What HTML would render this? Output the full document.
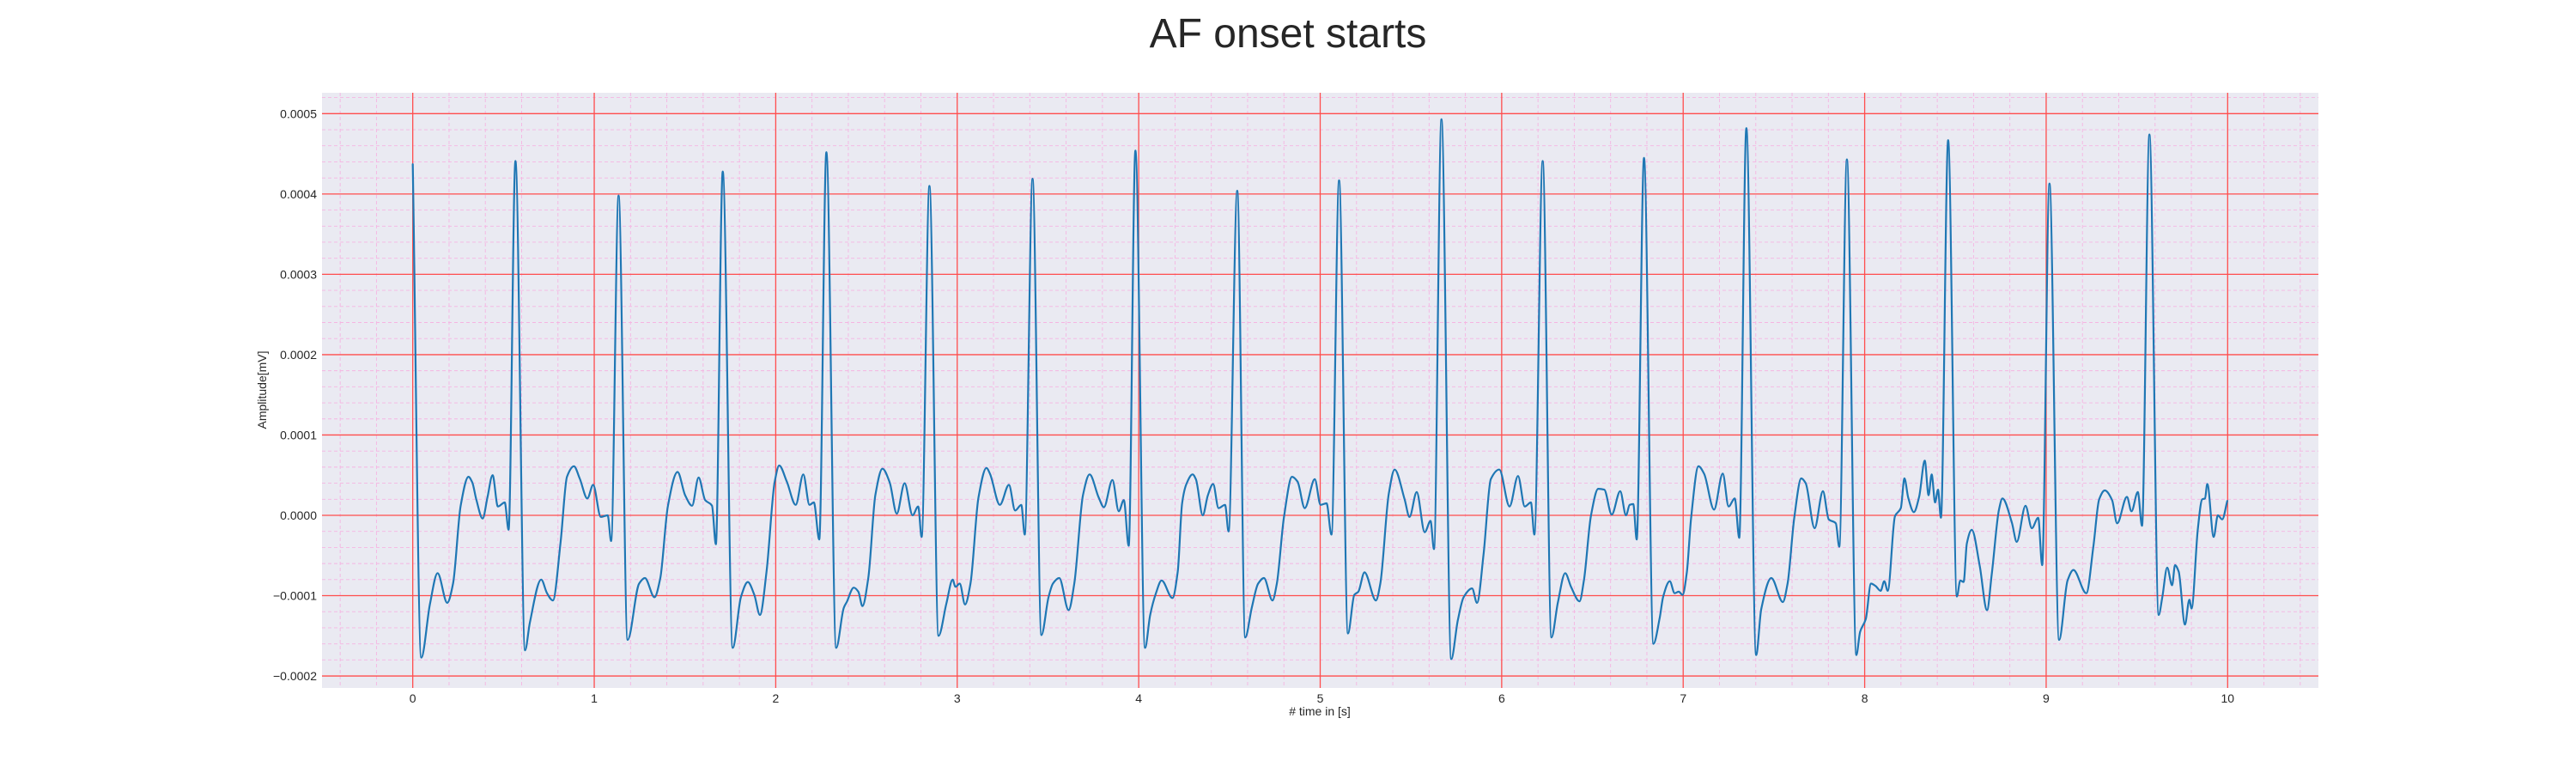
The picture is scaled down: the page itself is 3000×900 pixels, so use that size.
<!DOCTYPE html>
<html><head><meta charset="utf-8"><style>
html,body{margin:0;padding:0;background:#fff;}
svg{display:block;font-family:"Liberation Sans",Arial,sans-serif;}
</style></head><body>
<svg id="chart" width="3000" height="900" viewBox="0 0 3000 900" xmlns="http://www.w3.org/2000/svg">
<rect x="0" y="0" width="3000" height="900" fill="#ffffff"/>
<text x="1500" y="55" text-anchor="middle" font-size="48" fill="#262626">AF onset starts</text>
<rect x="375" y="108" width="2325" height="693" fill="#eaeaf2"/>
<g id="minor-grid"></g>
<g id="major-grid"></g>
<g id="series"></g>
<g id="x-ticks"></g>
<g id="y-ticks"></g>
<text x="1537" y="833" text-anchor="middle" font-size="14" fill="#262626"># time in [s]</text>
<text x="0" y="0" transform="translate(310,454) rotate(-90)" text-anchor="middle" font-size="14" fill="#262626">Amplitude[mV]</text>
</svg>
<script>
const timeSec = [0,0.047,0.095,0.137,0.19,0.222,0.264,0.307,0.328,0.349,0.385,0.412,0.44,0.469,0.507,0.528,0.566,
0.619,0.645,0.708,0.74,0.772,0.814,0.85,0.888,0.92,0.962,0.994,1.036,1.074,1.093,1.134,
1.184,1.247,1.279,1.332,1.364,1.406,1.459,1.501,1.539,1.575,1.611,1.649,1.67,1.708,
1.763,1.808,1.846,1.882,1.913,1.949,1.994,2.019,2.061,2.11,2.152,2.186,2.21,2.24,2.279,
2.333,2.375,2.391,2.43,2.455,2.478,2.51,2.549,2.588,2.628,2.667,2.71,2.754,2.785,2.804,2.847,
2.897,2.94,2.975,2.99,3.014,3.043,3.073,3.117,3.161,3.18,3.235,3.285,3.319,3.353,3.372,3.415,
3.464,3.503,3.527,3.562,3.614,3.645,3.693,3.729,3.78,3.808,3.855,3.89,3.918,3.945,3.982,
4.035,4.063,4.095,4.126,4.186,4.215,4.239,4.263,4.297,4.315,4.353,4.381,4.41,4.44,4.476,4.495,4.543,
4.587,4.623,4.658,4.69,4.737,4.761,4.8,4.845,4.875,4.915,4.97,5.002,5.035,5.062,5.104,
5.153,5.188,5.21,5.244,5.307,5.331,5.378,5.41,5.465,5.492,5.532,5.576,5.608,5.627,5.668,
5.722,5.758,5.79,5.837,5.864,5.9,5.94,5.987,6.043,6.09,6.127,6.161,6.18,6.226,
6.274,6.31,6.35,6.382,6.429,6.453,6.492,6.532,6.565,6.606,6.653,6.685,6.705,6.725,6.744,6.784,
6.836,6.871,6.89,6.926,6.953,6.975,6.997,7.02,7.044,7.084,7.115,7.17,7.218,7.25,7.284,7.309,7.348,
7.402,7.43,7.486,7.549,7.575,7.612,7.651,7.675,7.724,7.77,7.802,7.841,7.86,7.902,
7.954,7.975,8.006,8.035,8.06,8.088,8.108,8.127,8.167,8.199,8.219,8.24,8.271,8.30,8.331,8.352,8.369,8.388,8.404,8.42,8.46,
8.508,8.527,8.545,8.563,8.59,8.634,8.674,8.7,8.74,8.759,8.811,8.838,8.886,8.921,8.956,8.978,9.018,
9.071,9.118,9.15,9.221,9.26,9.292,9.323,9.363,9.391,9.445,9.47,9.505,9.528,9.569,
9.62,9.64,9.667,9.694,9.71,9.73,9.765,9.789,9.801,9.836,9.86,9.875,9.888,9.923,9.946,9.97,9.998];
const amplitudeE4 = [4.37,-1.77,-1.10,-0.72,-1.09,-0.85,0.12,0.48,0.41,0.21,-0.04,0.23,0.50,0.11,0.16,-0.18,4.41,
-1.68,-1.34,-0.80,-0.97,-1.06,-0.35,0.48,0.61,0.46,0.21,0.38,-0.02,0.0,-0.32,3.98,
-1.55,-0.85,-0.78,-1.02,-0.78,0.12,0.54,0.25,0.12,0.47,0.19,0.12,-0.36,4.28,
-1.65,-1.02,-0.83,-0.99,-1.24,-0.71,0.41,0.62,0.42,0.13,0.51,0.13,0.16,-0.30,4.52,
-1.65,-1.15,-1.08,-0.90,-0.95,-1.13,-0.78,0.25,0.58,0.41,0.02,0.40,0.00,0.11,-0.27,4.10,
-1.50,-1.10,-0.80,-0.89,-0.85,-1.11,-0.85,0.22,0.59,0.52,0.13,0.38,0.06,0.13,-0.24,4.19,
-1.49,-1.02,-0.85,-0.78,-1.18,-0.85,0.25,0.51,0.22,0.10,0.44,0.05,0.19,-0.38,4.54,
-1.65,-1.24,-0.97,-0.81,-1.03,-0.70,0.15,0.39,0.51,0.45,0.00,0.25,0.39,0.09,0.13,-0.20,4.04,
-1.52,-1.15,-0.85,-0.78,-1.06,-0.85,-0.03,0.48,0.42,0.09,0.45,0.13,0.15,-0.24,4.17,
-1.47,-0.99,-0.95,-0.71,-1.06,-0.85,0.27,0.57,0.20,-0.02,0.29,-0.21,-0.07,-0.42,4.93,
-1.79,-1.31,-1.02,-0.91,-1.09,-0.49,0.45,0.57,0.11,0.49,0.11,0.16,-0.24,4.41,
-1.52,-1.08,-0.72,-0.89,-1.07,-0.81,0.00,0.33,0.32,0.01,0.30,0.00,0.13,0.14,-0.30,4.45,
-1.60,-1.27,-1.01,-0.82,-0.97,-0.95,-0.99,-0.71,-0.03,0.61,0.52,0.07,0.52,0.11,0.21,-0.28,4.82,
-1.74,-1.17,-0.78,-1.08,-0.85,-0.03,0.46,0.40,-0.16,0.30,-0.05,-0.10,-0.39,4.43,
-1.74,-1.45,-1.29,-0.85,-0.88,-0.94,-0.82,-0.94,-0.01,0.09,0.46,0.22,0.04,0.23,0.68,0.25,0.51,0.16,0.32,-0.03,4.67,
-1.01,-0.81,-0.83,-0.35,-0.18,-0.63,-1.18,-0.74,0.07,0.21,-0.09,-0.33,0.12,-0.16,-0.03,-0.62,4.13,
-1.55,-0.81,-0.68,-0.97,-0.39,0.20,0.31,0.19,-0.10,0.23,0.05,0.29,-0.13,4.74,
-1.24,-1.02,-0.65,-0.87,-0.62,-0.70,-1.36,-1.05,-1.16,-0.16,0.20,0.21,0.39,-0.27,0.00,-0.05,0.18];
const xTickValues = [0,1,2,3,4,5,6,7,8,9,10];
const xTickLabels = ["0","1","2","3","4","5","6","7","8","9","10"];
const yTickValues = [-0.0002,-0.0001,0,0.0001,0.0002,0.0003,0.0004,0.0005];
const yTickLabels = ["\u22120.0002","\u22120.0001","0.0000","0.0001","0.0002","0.0003","0.0004","0.0005"];

const NS = "http://www.w3.org/2000/svg";
const PL = 375, PR = 2700, PT = 108, PB = 801;
const XMIN = -0.5, XMAX = 10.5, YMIN = -0.0002149, YMAX = 0.000526;
function xScale(t){ return PL + (t - XMIN) / (XMAX - XMIN) * (PR - PL); }
function yScale(v){ return PB - (v - YMIN) / (YMAX - YMIN) * (PB - PT); }
function mk(tag, attrs, parent){ const e = document.createElementNS(NS, tag); for (const k in attrs) e.setAttribute(k, attrs[k]); parent.appendChild(e); return e; }

const minorG = document.getElementById('minor-grid');
for (let i = -2; i <= 52; i++) {
  const t = i * 0.2; if (t < XMIN || t > XMAX || i % 5 === 0) continue;
  const l = mk('line', {x1: xScale(t), x2: xScale(t), y1: PT, y2: PB, stroke: '#f5b5e2', 'stroke-width': 0.9, 'stroke-dasharray': '4,3'}, minorG);
  
  
}
for (let i = -11; i <= 27; i++) {
  const v = i * 0.00002; if (v < YMIN || v > YMAX || i % 5 === 0) continue;
  const l = mk('line', {x1: PL, x2: PR, y1: yScale(v), y2: yScale(v), stroke: '#f5b5e2', 'stroke-width': 0.9, 'stroke-dasharray': '4,3'}, minorG);
  
  
}
const majorG = document.getElementById('major-grid');
const xt = document.getElementById('x-ticks');
xTickValues.forEach((t, i) => {
  const l = mk('line', {x1: xScale(t), x2: xScale(t), y1: PT, y2: PB, stroke: '#ff4d4d', 'stroke-width': 1.3}, majorG);
  
  
  const tx = mk('text', {x: xScale(t), y: 818, 'text-anchor': 'middle', 'font-size': 14, fill: '#262626'}, xt);
  tx.textContent = xTickLabels[i];
  
  
});
const yt = document.getElementById('y-ticks');
yTickValues.forEach((v, i) => {
  const l = mk('line', {x1: PL, x2: PR, y1: yScale(v), y2: yScale(v), stroke: '#ff4d4d', 'stroke-width': 1.3}, majorG);
  
  
  const tx = mk('text', {x: 369, y: yScale(v) + 5, 'text-anchor': 'end', 'font-size': 14, fill: '#262626'}, yt);
  tx.textContent = yTickLabels[i];
  
  
});

// monotone cubic path through the data points (no overshoot)
const X = timeSec.map(xScale), Y = amplitudeE4.map(a => yScale(a * 1e-4));
const n = X.length, d = [], m = new Array(n);
for (let i = 0; i < n - 1; i++) d.push((Y[i+1] - Y[i]) / (X[i+1] - X[i]));
m[0] = d[0]; m[n-1] = d[n-2];
for (let i = 1; i < n - 1; i++) {
  if (d[i-1] * d[i] <= 0) m[i] = 0;
  else { const h0 = X[i]-X[i-1], h1 = X[i+1]-X[i]; const w1 = 2*h1+h0, w2 = h1+2*h0; m[i] = (w1+w2)/(w1/d[i-1] + w2/d[i]); }
}
let path = 'M' + X[0].toFixed(1) + ',' + Y[0].toFixed(1);
for (let i = 0; i < n - 1; i++) {
  const h = (X[i+1] - X[i]) / 3;
  path += ' C' + (X[i]+h).toFixed(1) + ',' + (Y[i]+m[i]*h).toFixed(1) + ' ' + (X[i+1]-h).toFixed(1) + ',' + (Y[i+1]-m[i+1]*h).toFixed(1) + ' ' + X[i+1].toFixed(1) + ',' + Y[i+1].toFixed(1);
}
const line = mk('path', {d: path, fill: 'none', stroke: '#1f77b4', 'stroke-width': 2.2, 'stroke-linejoin': 'round', 'stroke-linecap': 'round'}, document.getElementById('series'));


</script>
</body></html>
